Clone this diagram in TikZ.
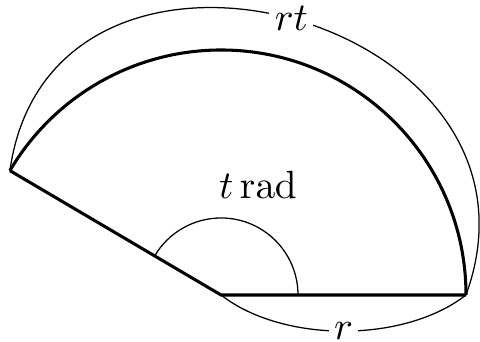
\documentclass[tikz,border=0pt]{standalone}
\usetikzlibrary{calc}
\begin{document}
\begin{tikzpicture}[x=0.2778pt,y=0.2778pt,
  font=\fontsize{10.95}{13}\selectfont,
  edge/.style={line width=0.85pt},
  dim/.style={line width=0.35pt},
  lbl/.style={fill=white,inner xsep=1.5pt,inner ysep=0.5pt}]
\useasboundingbox (0,0) rectangle (480,342);
\coordinate (O) at (221,47);
\coordinate (B) at ($(O)+(0:245)$);
\coordinate (A) at ($(O)+(149.5:245)$);
\draw[edge] (A) -- (O) -- (B);
\draw[edge] (B) arc[start angle=0,end angle=149.5,radius=245];
\draw[dim] ($(O)+(77,0)$) arc[start angle=0,end angle=149.5,radius=77];
\node (trad) at (258,157) {$t\,\mathrm{rad}$};
\draw[dim] (A) to[out=82,in=70,looseness=1.6] node[lbl] (rt) {$rt$} (B);
\draw[dim] (O) to[out=-38,in=-142,looseness=0.82] node[lbl] (r) {$r$} (B);
\end{tikzpicture}
\end{document}
